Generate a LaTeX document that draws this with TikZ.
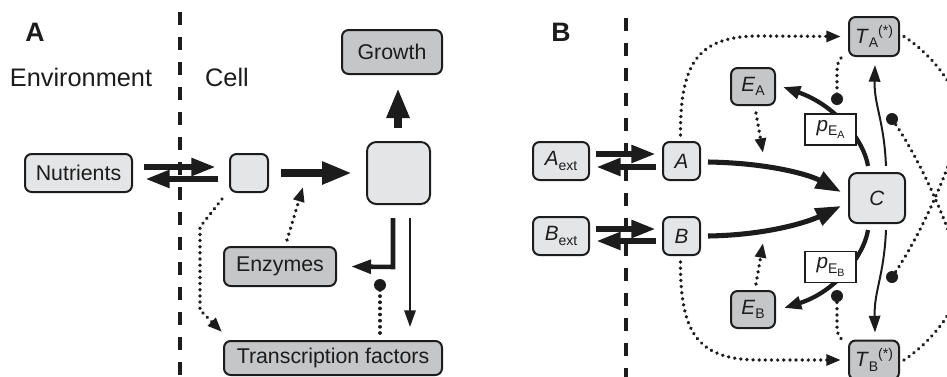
\documentclass[tikz,border=0pt]{standalone}
\usepackage{fontspec}
\setmainfont{Liberation Sans}
\usetikzlibrary{arrows.meta,calc}
\pgfdeclarelayer{bg}
\pgfsetlayers{bg,main}
\definecolor{lightfill}{HTML}{E4E5E6}
\definecolor{darkfill}{HTML}{C5C6C8}
\definecolor{ink}{HTML}{1C1C1C}
\newcommand\nodefont{\fontsize{16}{19}\selectfont}
\newcommand\bfont{\fontsize{15.5}{18}\selectfont}
\newcommand\lowsub[1]{\raisebox{-3.2pt}{\fontsize{10.5}{11}\selectfont #1}}
\newcommand\highsup[1]{\raisebox{6pt}{\fontsize{10.5}{11}\selectfont #1}}
\newcommand\pname[1]{\textit{p}\raisebox{-3.5pt}{\fontsize{10.5}{11}\selectfont E\raisebox{-2.2pt}{\fontsize{8}{9}\selectfont #1}}}
\begin{document}
\begin{tikzpicture}[x=0.75pt,y=-0.75pt,
  box/.style={draw=ink,line width=1.5pt,rounded corners=5pt,inner sep=0pt,text=ink},
  lightbox/.style={box,fill=lightfill},
  darkbox/.style={box,fill=darkfill},
  pbox/.style={draw=ink,line width=1.2pt,fill=white,inner sep=0pt,text=ink,minimum width=38.25pt,minimum height=23.25pt,font=\bfont},
  heavy/.style={draw=ink,line width=5.6pt,-{Triangle[length=22.5pt,width=16pt]}},
  twoway/.style={draw=ink,line width=4.6pt,-{Triangle[length=18.5pt,width=12.5pt]}},
  medium/.style={draw=ink,line width=3.4pt,-{Triangle[length=15pt,width=10pt]}},
  curvy/.style={draw=ink,line width=3.8pt,-{Triangle[length=19pt,width=13.5pt]}},
  curvysm/.style={draw=ink,line width=3.2pt,-{Triangle[length=13pt,width=9.5pt]}},
  thin/.style={draw=ink,line width=1.5pt,-{Triangle[length=12.5pt,width=8.5pt]}},
  dotline/.style={draw=ink,line width=2.8pt,line cap=round,dash pattern=on 0.01pt off 4.6pt},
  dotarrow/.style={dotline,-{Triangle[length=11pt,width=8pt]}},
  ball/.style={fill=ink},
  divider/.style={draw=ink,line width=2.3pt,dash pattern=on 9.75pt off 9pt},
  headlabel/.style={text=ink,font=\fontsize{19}{22}\selectfont,inner sep=0pt},
  panellabel/.style={text=ink,font=\fontsize{20}{22}\selectfont\bfseries,inner sep=0pt}
]
\useasboundingbox (0,0) rectangle (947,376);
\clip (0,0) rectangle (947,376);

% ---------------- Panel A ----------------
\node[panellabel] (labA) at (35,32) {A};
\node[headlabel] (env) at (81,77) {Environment};
\node[headlabel] (cell) at (227,77) {Cell};
\coordinate (divAtop) at (180,12);
\coordinate (divAbot) at (180,380);
\draw[divider] (divAtop) -- (divAbot);

\node[lightbox,minimum width=80.25pt,minimum height=28.5pt,font=\nodefont] (nut) at (78.5,173) {Nutrients};
\node[lightbox,minimum width=28.5pt,minimum height=28.5pt] (sm) at (249,173) {};
\node[lightbox,minimum width=47.25pt,minimum height=46.5pt,rounded corners=7pt] (big) at (398.5,173) {};
\node[darkbox,minimum width=75pt,minimum height=33pt,font=\nodefont] (grow) at (392,52) {Growth};
\node[darkbox,minimum width=84pt,minimum height=29.25pt,font=\nodefont] (enz) at (280,266.5) {Enzymes};
\node[darkbox,minimum width=163.5pt,minimum height=25.5pt,font=\nodefont] (tf) at (333,358) {Transcription factors};

\draw[twoway] ($(nut.east)+(11,-6)$) -- ($(sm.west)+(-13,-6)$);
\draw[twoway] ($(sm.west)+(-11,6)$) -- ($(nut.east)+(12,6)$);
\draw[heavy] ($(sm.east)+(12,0)$) -- ($(big.west)+(-14,0)$);
\draw[heavy] ($(big.north)+(-0.5,-13)$) -- ($(grow.south)+(6,13)$);
\draw[medium,line cap=butt] ($(big.south)+(-5.5,13)$) -- ($(big.south)+(-5.5,62)$) -- ($(enz.east)+(14,0)$);
\draw[thin] ($(big.south)+(11.5,13)$) -- ($(tf.north)+(77,-13)$);
\coordinate (ballTF) at ($(tf.north)+(47,-55)$);
\draw[dotline] ($(tf.north)+(47,-7)$) -- (ballTF);
\fill[ball] (ballTF) circle (4.5pt);
\draw[dotarrow] ($(sm.south west)+(-7,6)$) -- (200,227) -- (200,310) -- ($(tf.north west)+(-1,-8)$);
\coordinate (enztip) at (303,187);
\draw[dotarrow] ($(enz.north)+(7,-6)$) -- (enztip);

% ---------------- Panel B ----------------
\node[panellabel] (labB) at (561,32) {B};
\coordinate (divBtop) at (626,18);
\coordinate (divBbot) at (626,380);
\draw[divider] (divBtop) -- (divBbot);

\node[lightbox,minimum width=42pt,minimum height=28.5pt,font=\bfont] (aext) at (561,161) {\textit{A}\lowsub{ext}};
\node[lightbox,minimum width=42pt,minimum height=28.5pt,font=\bfont] (bext) at (561,236) {\textit{B}\lowsub{ext}};
\node[lightbox,minimum width=27.75pt,minimum height=28.5pt,font=\bfont] (a) at (681.5,161) {\textit{A}};
\node[lightbox,minimum width=27.75pt,minimum height=28.5pt,font=\bfont] (b) at (681.5,236) {\textit{B}};
\node[lightbox,minimum width=42pt,minimum height=37.5pt,font=\bfont,rounded corners=6pt] (c) at (877,198) {\textit{C}};
\node[darkbox,minimum width=37.5pt,minimum height=29.25pt,font=\bfont] (ta) at (874,36.5) {\textit{T}\lowsub{A}\highsup{(*)}};
\node[darkbox,minimum width=37.5pt,minimum height=29.25pt,font=\bfont] (tb) at (874,360) {\textit{T}\lowsub{B}\highsup{(*)}};
\node[darkbox,minimum width=33pt,minimum height=27.75pt,font=\bfont] (ea) at (753,86.5) {\textit{E}\lowsub{A}};
\node[darkbox,minimum width=33pt,minimum height=27.75pt,font=\bfont] (eb) at (753,309.5) {\textit{E}\lowsub{B}};
\node[pbox] (pa) at (830.5,129.5) {\pname{A}};
\node[pbox] (pb) at (830.5,267) {\pname{B}};

\draw[twoway] ($(aext.east)+(6,-7)$) -- ($(a.west)+(-6,-7)$);
\draw[twoway] ($(a.west)+(-6,6)$) -- ($(aext.east)+(6,6)$);
\draw[twoway] ($(bext.east)+(6,-7)$) -- ($(b.west)+(-6,-7)$);
\draw[twoway] ($(b.west)+(-6,5)$) -- ($(bext.east)+(6,5)$);

\draw[curvy] ($(a.east)+(7,1)$) .. controls (770,163) and (810,175) .. ($(c.west)+(-7,-6)$);
\draw[curvy] ($(b.east)+(7,0)$) .. controls (770,235) and (810,221) .. ($(c.west)+(-7,8)$);

\begin{pgfonlayer}{bg}
\draw[curvysm] ($(c.north)+(-9,-6)$) .. controls (864,140) and (835,105) .. ($(ea.east)+(7,0.5)$);
\draw[curvysm] ($(c.south)+(-9,6)$) .. controls (864,256) and (835,292) .. ($(eb.east)+(8,-1.5)$);
\end{pgfonlayer}

\draw[thin] ($(c.north)+(9,-6)$) .. controls (884,120) and (874,105) .. ($(ta.south)+(1,8)$);
\draw[thin] ($(c.south)+(9,6)$) .. controls (884,276) and (874,291) .. ($(tb.north)+(1,-7)$);

\draw[dotarrow] ($(a.north)+(-1,-6)$) .. controls (680,60) and (700,36) .. (760,36) -- ($(ta.west)+(-7,0)$);
\draw[dotarrow] ($(b.south)+(-1,6)$) .. controls (680,336) and (700,360) .. (760,360) -- ($(tb.west)+(-7,0)$);

\coordinate (ballTA) at (837,99);
\coordinate (ballTB) at (837,296);
\draw[dotline] ($(ta.south west)+(-7,1)$) .. controls (837,64) .. (837,76) -- (ballTA);
\draw[dotline] ($(tb.north west)+(-7,-1)$) .. controls (837,333) .. (837,321) -- (ballTB);
\fill[ball] (ballTA) circle (4.5pt);
\fill[ball] (ballTB) circle (4.5pt);

\draw[dotarrow] ($(ea.south)+(3,7)$) -- (763,153);
\draw[dotarrow] ($(eb.north)+(3,-6)$) -- (763,243);

\coordinate (ballA) at (892,277);
\coordinate (ballB) at (892,119);
\draw[dotline] ($(ta.east)+(4,0)$) .. controls (933,55) and (965,95) .. (960,125) .. controls (957,150) and (925,230) .. (ballA);
\draw[dotline] ($(tb.east)+(4,0)$) .. controls (933,341) and (965,301) .. (960,271) .. controls (957,246) and (925,166) .. (ballB);
\fill[ball] (ballA) circle (4.5pt);
\fill[ball] (ballB) circle (4.5pt);
\end{tikzpicture}
\end{document}
